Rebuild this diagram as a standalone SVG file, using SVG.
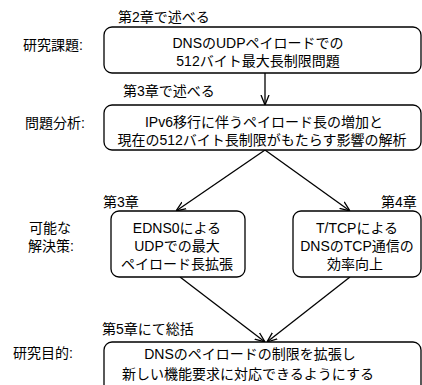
<svg xmlns="http://www.w3.org/2000/svg" width="422" height="385" viewBox="0 0 422 385">
<style>
text{font-family:"Liberation Sans","Noto Sans CJK JP",sans-serif;font-size:14px;fill:#000}
.c{text-anchor:middle}
.box{fill:#fff;stroke:#000;stroke-width:1.3}
.ln{fill:none;stroke:#000;stroke-width:1.3}
</style>
<defs>
<marker id="ah" viewBox="0 0 10 10" refX="10" refY="5" markerWidth="10" markerHeight="10" markerUnits="userSpaceOnUse" orient="auto">
<path d="M0,1 L10,5 L0,9" fill="none" stroke="#000" stroke-width="1.3"/>
</marker>
</defs>
<rect width="422" height="385" fill="#fff"/>
<g id="labels">
<text x="118" y="22">第2章で述べる</text>
<text x="23" y="50">研究課題:</text>
<text x="123" y="96">第3章で述べる</text>
<text x="25" y="128">問題分析:</text>
<text x="103" y="207">第3章</text>
<text x="381" y="207">第4章</text>
<text x="50" y="233" class="c">可能な</text>
<text x="28" y="251">解決策:</text>
<text x="102" y="334">第5章にて総括</text>
<text x="13" y="358">研究目的:</text>
</g>
<g id="connectors">
<line class="ln" x1="265" y1="73" x2="265" y2="105" marker-end="url(#ah)"/>
<line class="ln" x1="265" y1="150" x2="176" y2="211" marker-end="url(#ah)"/>
<line class="ln" x1="265" y1="150" x2="350" y2="211" marker-end="url(#ah)"/>
<line class="ln" x1="180" y1="277" x2="265" y2="342" marker-end="url(#ah)"/>
<line class="ln" x1="350" y1="277" x2="267" y2="342" marker-end="url(#ah)"/>
</g>
<g id="n1">
<rect class="box" x="104" y="27" width="317" height="46" rx="8"/>
<text x="258" y="48" class="c">DNSのUDPペイロードでの</text>
<text x="258" y="66" class="c">512バイト最大長制限問題</text>
</g>
<g id="n2">
<rect class="box" x="104" y="105" width="317" height="45" rx="8"/>
<text x="264" y="127" class="c">IPv6移行に伴うペイロード長の増加と</text>
<text x="262" y="145" class="c">現在の512バイト長制限がもたらす影響の解析</text>
</g>
<g id="n3">
<rect class="box" x="111" y="211" width="134" height="66" rx="8"/>
<text x="177" y="233" class="c">EDNS0による</text>
<text x="177" y="251" class="c">UDPでの最大</text>
<text x="177" y="269" class="c">ペイロード長拡張</text>
</g>
<g id="n4">
<rect class="box" x="293" y="211" width="128" height="66" rx="8"/>
<text x="357" y="233" class="c">T/TCPによる</text>
<text x="357" y="251" class="c">DNSのTCP通信の</text>
<text x="355" y="269" class="c">効率向上</text>
</g>
<g id="n5">
<rect class="box" x="104" y="342" width="317" height="60" rx="8"/>
<text x="250" y="359" class="c">DNSのペイロードの制限を拡張し</text>
<text x="248" y="379" class="c">新しい機能要求に対応できるようにする</text>
</g>
</svg>
